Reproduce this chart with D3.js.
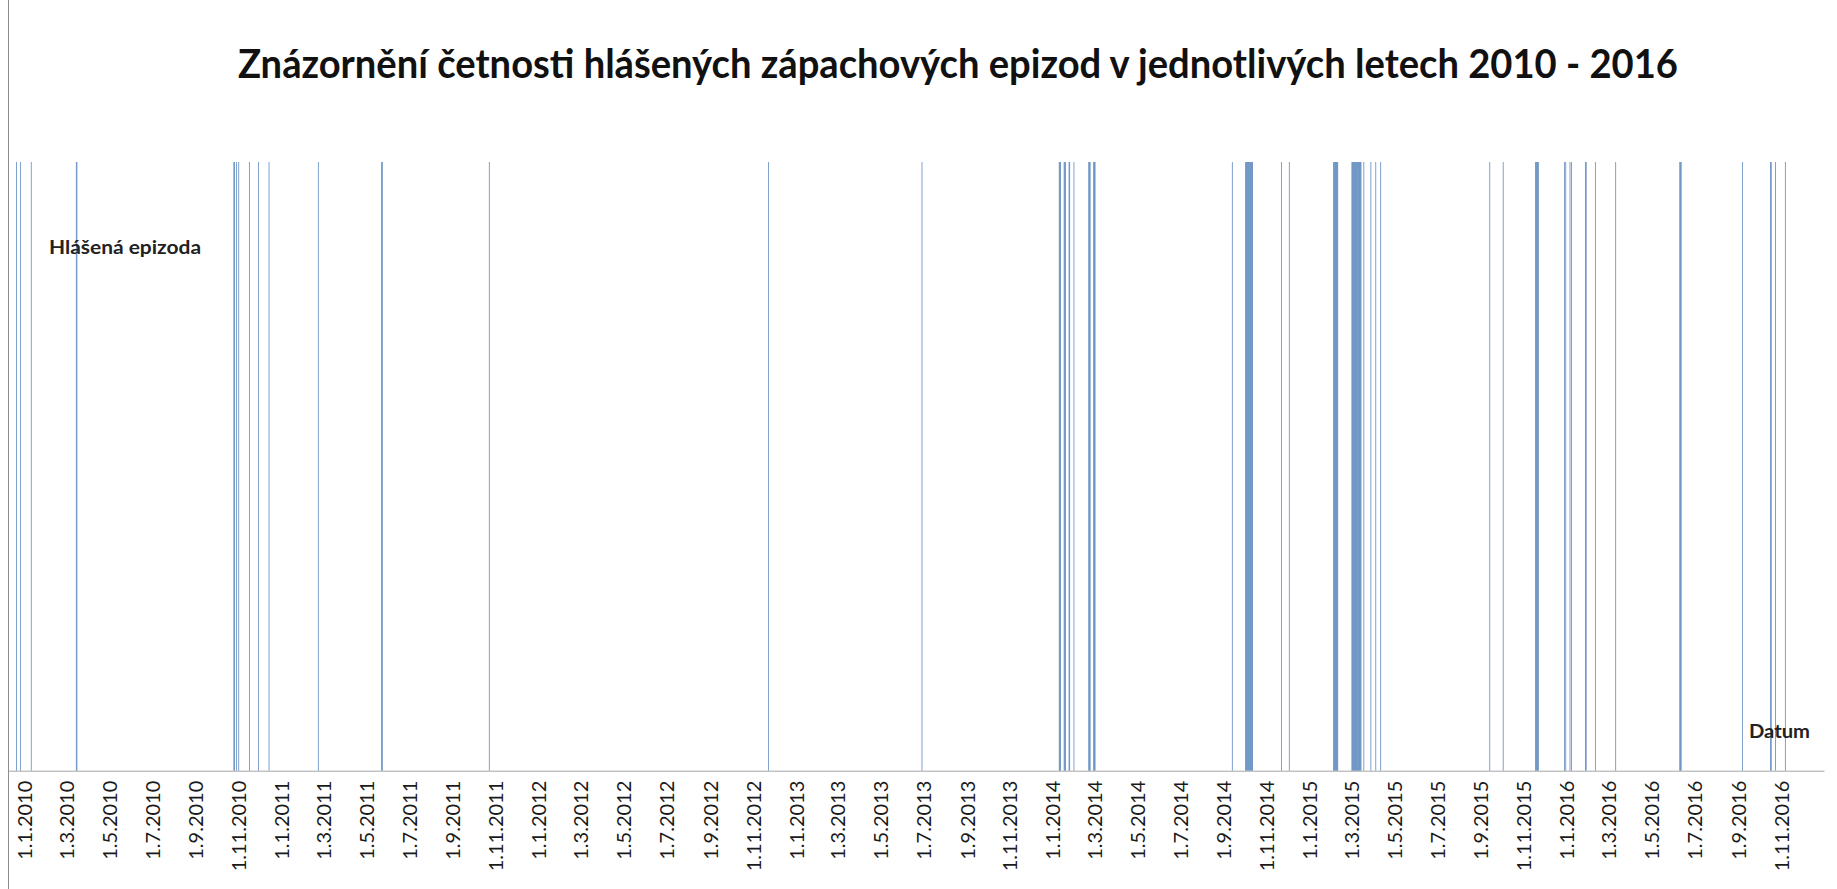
<!DOCTYPE html>
<html>
<head>
<meta charset="utf-8">
<script src="https://d3js.org/d3.v7.min.js"></script>
<style>
    body { margin: 0; background: #fff; font-family: Lato, "Open Sans", sans-serif; }
    #chart svg { display: block; }
</style>
</head>
<body>
<div id="chart"></div>
<script>
    // days with a reported odour episode (one column per day, value 1)
    var episodeDates = [
        "2009-12-20", "2009-12-26", "2010-01-10", "2010-03-15", "2010-03-16",
        "2010-10-25", "2010-10-26", "2010-10-29", "2010-11-01", "2010-11-16", "2010-11-29", "2010-12-14",
        "2011-02-22", "2011-05-23", "2011-05-24", "2011-10-23",
        "2012-11-23",
        "2013-06-29",
        "2014-01-10", "2014-01-11", "2014-01-12", "2014-01-17", "2014-01-18", "2014-01-19",
        "2014-01-24", "2014-01-25", "2014-01-31",
        "2014-02-21", "2014-02-22", "2014-02-23", "2014-02-28", "2014-03-01", "2014-03-02",
        "2014-09-13",
        "2014-10-02", "2014-10-03", "2014-10-04", "2014-10-05", "2014-10-06", "2014-10-07",
        "2014-10-08", "2014-10-09", "2014-10-10", "2014-10-11", "2014-10-12",
        "2014-11-22", "2014-12-03",
        "2015-02-04", "2015-02-05", "2015-02-06", "2015-02-07", "2015-02-08", "2015-02-09", "2015-02-10",
        "2015-03-02", "2015-03-03", "2015-03-04", "2015-03-05", "2015-03-06", "2015-03-07", "2015-03-08",
        "2015-03-09", "2015-03-10", "2015-03-11", "2015-03-12", "2015-03-13", "2015-03-14", "2015-03-15",
        "2015-03-19", "2015-03-29", "2015-04-05", "2015-04-12",
        "2015-09-14", "2015-10-03",
        "2015-11-18", "2015-11-19", "2015-11-20", "2015-11-21", "2015-11-22",
        "2015-12-29", "2015-12-31", "2016-01-06", "2016-01-08",
        "2016-01-28", "2016-01-29", "2016-02-11", "2016-03-11",
        "2016-06-10", "2016-06-11", "2016-06-12",
        "2016-09-07", "2016-10-17", "2016-10-18", "2016-10-24", "2016-11-07"
    ];
    var episodeValue = 1;

    var axisStart = "2009-12-09",
        axisEnd = "2017-01-01",
        firstTick = "2010-01-01",
        lastTick = "2016-11-01";

    var title = "Znázornění četnosti hlášených zápachových epizod v jednotlivých letech 2010 - 2016",
        yTitle = "Hlášená epizoda",
        xTitle = "Datum";

    var width = 1837, height = 889;
    var plotLeft = 8.7, plotRight = 1824, plotBase = 770.7, plotTop = 162;

    var parse = d3.utcParse("%Y-%m-%d");
    var data = episodeDates.map(function (d) { return { date: parse(d), value: episodeValue }; });

    var x = d3.scaleUtc().domain([parse(axisStart), parse(axisEnd)]).range([plotLeft, plotRight]);
    var y = d3.scaleLinear().domain([0, 1]).range([plotBase, plotTop]);

    var svg = d3.select("#chart").append("svg")
        .attr("width", width)
        .attr("height", height);

    svg.append("rect").attr("width", width).attr("height", height).attr("fill", "#fff");

    // left border of the chart
    svg.append("line")
        .attr("x1", 8.5).attr("x2", 8.5)
        .attr("y1", 0).attr("y2", height)
        .attr("stroke", "#8c8c8c")
        .attr("stroke-width", 1);

    // one column per reported day
    function dayWidth(d) { return x(d3.utcDay.offset(d.date, 1)) - x(d.date); }

    svg.append("g").selectAll("rect")
        .data(data)
        .enter().append("rect")
        .attr("x", function (d) { return x(d.date) - dayWidth(d) / 2; })
        .attr("width", dayWidth)
        .attr("y", function (d) { return y(d.value); })
        .attr("height", function (d) { return y(0) - y(d.value); })
        .attr("fill", "#4a7bb7");

    var ticks = d3.utcMonth.every(2).range(parse(firstTick), d3.utcDay.offset(parse(lastTick), 1));

    var xAxis = svg.append("g")
        .attr("transform", "translate(0," + plotBase + ")")
        .call(d3.axisBottom(x)
            .tickValues(ticks)
            .tickFormat(d3.utcFormat("%-d.%-m.%Y"))
            .tickSize(0)
            .tickSizeOuter(0));

    xAxis.select(".domain").attr("stroke", "#a6a6a6");
    xAxis.selectAll("text")
        .attr("transform", "rotate(-90)")
        .attr("x", -10)
        .attr("y", 0)
        .attr("dy", "0.35em")
        .style("text-anchor", "end")
        .style("font-family", "Lato, 'Open Sans', sans-serif")
        .style("font-size", "20px")
        .attr("fill", "#1a1a1a");

    svg.append("text")
        .attr("x", 238)
        .attr("y", 78)
        .attr("textLength", 1440)
        .attr("lengthAdjust", "spacingAndGlyphs")
        .style("font-size", "40px")
        .style("font-weight", "bold")
        .attr("fill", "#111")
        .text(title);

    svg.append("text")
        .attr("x", 49)
        .attr("y", 254)
        .attr("textLength", 152)
        .attr("lengthAdjust", "spacingAndGlyphs")
        .style("font-size", "19px")
        .style("font-weight", "bold")
        .attr("fill", "#222")
        .text(yTitle);

    svg.append("text")
        .attr("x", 1749)
        .attr("y", 738)
        .attr("textLength", 61)
        .attr("lengthAdjust", "spacingAndGlyphs")
        .style("font-size", "19px")
        .style("font-weight", "bold")
        .attr("fill", "#222")
        .text(xTitle);
</script>
</body>
</html>
